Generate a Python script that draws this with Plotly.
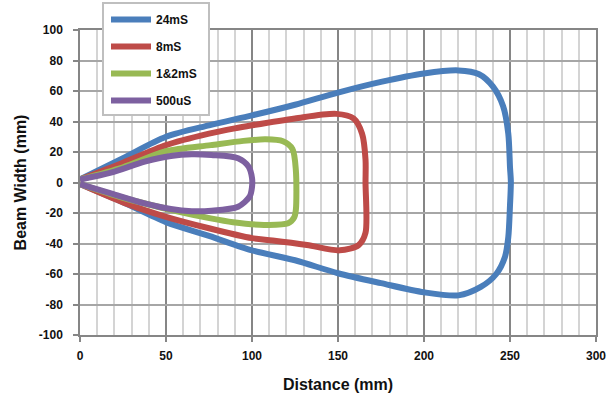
import plotly.graph_objects as go

# ---- data ----
blue_name = "24mS"
blue_x = [0, 25, 50, 75, 100, 125, 150, 175, 200, 220, 232, 240, 246, 249, 250, 250.5,
          250, 249, 247, 242, 233, 220, 200, 175, 150, 125, 100, 75, 50, 25, 0]
blue_y = [2, 16, 30, 37.5, 44, 51, 59, 66, 71.5, 73.5, 71, 63, 50, 32, 10, 0.5,
          -15, -36, -49, -60, -68.5, -74, -72, -66, -59.5, -51, -44.5, -35, -26, -13, -1]

red_name = "8mS"
red_x = [0, 25, 50, 75, 90, 100, 125, 149, 159, 164, 166, 166, 166, 162, 151, 132, 112, 100, 75, 50, 25, 0]
red_y = [2, 13, 24.5, 32, 35.5, 37.5, 42, 45, 42, 32, 15, 0, -33, -41, -44.5, -41, -38, -36.5, -30, -22.5, -13, -1]

green_name = "1&2mS"
green_x = [0, 25, 50, 76, 95, 108, 118, 123.5, 125.5, 125.5, 124.5, 121, 107, 89, 76, 57, 25, 0]
green_y = [2, 10, 20.5, 24.5, 27.3, 28.3, 27, 22, 8, -18, -23, -26.8, -27.8, -26, -23.5, -19, -10, -1]

purple_name = "500uS"
purple_x = [0, 18, 37.6, 52.8, 65, 76.4, 91.9, 98, 100, 100, 98.6, 91.9, 76.4, 65, 52.8, 37.6, 18, 0]
purple_y = [2, 6.5, 13.7, 17.4, 18.5, 18, 15.9, 10.4, 3, -3, -9.3, -15.9, -18.5, -18.8, -17.4, -13.7, -7.1, -1]

series = [
    (blue_name, blue_x, blue_y, "#4A7EBB"),
    (red_name, red_x, red_y, "#BE4B48"),
    (green_name, green_x, green_y, "#98B954"),
    (purple_name, purple_x, purple_y, "#7D60A0"),
]

x_ticks = [0, 50, 100, 150, 200, 250, 300]
y_ticks = [-100, -80, -60, -40, -20, 0, 20, 40, 60, 80, 100]

fig = go.Figure()
for i, (name, xs, ys, col) in enumerate(series):
    fig.add_trace(go.Scatter(
        x=xs, y=ys, mode="lines", name=name, legendgroup=f"g{i}",
        line=dict(color=col, width=6, shape="spline", smoothing=0.8),
    ))

FONT = "Liberation Sans, Arial, sans-serif"
tick_font = dict(family=FONT, size=12, color="#111", weight="bold")
title_font = dict(family=FONT, size=16, color="#111", weight="bold")

L, R, T, B = 80, 17, 30, 64
W, H = 613, 399
pw, ph = W - L - R, H - T - B


def px_x(p):
    return (p - L) / pw


def px_y(p):
    return (H - B - p) / ph


# legend frame (white box with grey border) behind the legend entries
fig.add_shape(
    type="rect", xref="paper", yref="paper",
    x0=px_x(103), x1=px_x(209), y0=px_y(115), y1=px_y(3),
    fillcolor="white", line=dict(color="#BFBFBF", width=2), layer="above",
)

fig.update_layout(
    width=W, height=H,
    margin=dict(l=L, r=R, t=T, b=B, autoexpand=False),
    paper_bgcolor="white", plot_bgcolor="white",
    showlegend=True,
    legend=dict(
        x=px_x(106), y=px_y(5),
        xanchor="left", yanchor="top",
        bgcolor="rgba(0,0,0,0)", borderwidth=0,
        font=dict(family=FONT, size=12, color="#111", weight="bold"),
        tracegroupgap=8, itemwidth=40,
    ),
    xaxis=dict(
        range=[0, 300], tickvals=x_ticks, ticktext=[str(v) for v in x_ticks],
        showgrid=True, gridcolor="#868686", gridwidth=1.5,
        minor=dict(dtick=10, showgrid=True, gridcolor="#D4D4D4", gridwidth=1.5),
        showline=True, linecolor="#868686", linewidth=1.5, mirror=True,
        ticks="outside", ticklen=5, tickcolor="#868686", tickwidth=1.5,
        ticklabelstandoff=4,
        tickfont=tick_font, zeroline=False, automargin=False,
        title=dict(text="Distance (mm)", font=title_font, standoff=17),
    ),
    yaxis=dict(
        range=[-100, 100], tickvals=y_ticks, ticktext=[str(v) for v in y_ticks],
        showgrid=True, gridcolor="#A6A6A6", gridwidth=1.5,
        showline=True, linecolor="#868686", linewidth=1.5, mirror=True,
        ticks="outside", ticklen=5, tickcolor="#868686", tickwidth=1.5,
        ticklabelstandoff=8,
        tickfont=tick_font, zeroline=False, automargin=False,
        title=dict(text="Beam Width (mm)", font=title_font, standoff=8),
    ),
)

fig.write_html(
    "out.html",
    config={"displayModeBar": False},
    post_script="document.body.style.margin='0';document.body.style.overflow='hidden';",
)
